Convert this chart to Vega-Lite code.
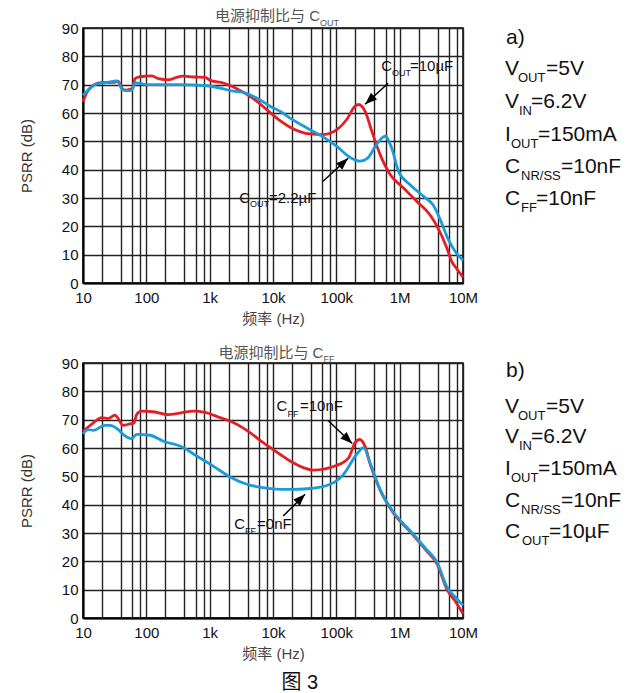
{
  "$schema": "https://vega.github.io/schema/vega-lite/v6.json",
  "background": "white",
  "padding": {"left": 18, "top": 8, "right": 0, "bottom": 0},
  "title": {"text": "图 3", "orient": "bottom", "anchor": "middle", "fontSize": 20, "fontWeight": "normal", "color": "#111", "offset": 11, "dx": -25, "font": "Liberation Sans, Noto Sans CJK SC"},
  "datasets": {
    "curvesA": [
      {"f":10,"psrr":64.0,"s":"r"},{"f":11.4,"psrr":67.1,"s":"r"},{"f":13,"psrr":68.8,"s":"r"},{"f":16.4,"psrr":70.4,"s":"r"},{"f":20,"psrr":70.7,"s":"r"},{"f":30,"psrr":70.8,"s":"r"},{"f":36,"psrr":71.2,"s":"r"},{"f":39,"psrr":70.0,"s":"r"},{"f":41,"psrr":68.8,"s":"r"},{"f":46,"psrr":68.1,"s":"r"},{"f":55,"psrr":68.3,"s":"r"},{"f":61,"psrr":68.8,"s":"r"},{"f":64,"psrr":71.0,"s":"r"},{"f":66,"psrr":72.1,"s":"r"},{"f":80,"psrr":72.8,"s":"r"},{"f":100,"psrr":73.0,"s":"r"},{"f":122,"psrr":73.1,"s":"r"},{"f":155,"psrr":72.1,"s":"r"},{"f":200,"psrr":71.8,"s":"r"},{"f":237,"psrr":71.8,"s":"r"},{"f":300,"psrr":72.6,"s":"r"},{"f":385,"psrr":73.0,"s":"r"},{"f":553,"psrr":72.7,"s":"r"},{"f":845,"psrr":72.6,"s":"r"},{"f":1015,"psrr":71.5,"s":"r"},{"f":1645,"psrr":70.6,"s":"r"},{"f":2680,"psrr":68.6,"s":"r"},{"f":4900,"psrr":65.1,"s":"r"},{"f":7950,"psrr":61.2,"s":"r"},{"f":12900,"psrr":57.3,"s":"r"},{"f":18600,"psrr":55.0,"s":"r"},{"f":38500,"psrr":52.6,"s":"r"},{"f":62500,"psrr":52.4,"s":"r"},{"f":102000,"psrr":54.1,"s":"r"},{"f":146000,"psrr":57.7,"s":"r"},{"f":198000,"psrr":62.4,"s":"r"},{"f":224000,"psrr":63.0,"s":"r"},{"f":285000,"psrr":60.6,"s":"r"},{"f":364000,"psrr":53.5,"s":"r"},{"f":492000,"psrr":45.3,"s":"r"},{"f":707000,"psrr":38.3,"s":"r"},{"f":1150000,"psrr":33.5,"s":"r"},{"f":1870000,"psrr":28.8,"s":"r"},{"f":3000000,"psrr":24.1,"s":"r"},{"f":3900000,"psrr":20.0,"s":"r"},{"f":5600000,"psrr":12.2,"s":"r"},{"f":6600000,"psrr":7.7,"s":"r"},{"f":8000000,"psrr":5.0,"s":"r"},{"f":10000000,"psrr":2.0,"s":"r"},
      {"f":10,"psrr":66.2,"s":"b"},{"f":12.9,"psrr":68.8,"s":"b"},{"f":17.5,"psrr":70.4,"s":"b"},{"f":22,"psrr":70.6,"s":"b"},{"f":30,"psrr":71.2,"s":"b"},{"f":34,"psrr":71.3,"s":"b"},{"f":37,"psrr":70.5,"s":"b"},{"f":41,"psrr":68.3,"s":"b"},{"f":50,"psrr":67.9,"s":"b"},{"f":59,"psrr":68.0,"s":"b"},{"f":63,"psrr":69.5,"s":"b"},{"f":66,"psrr":70.6,"s":"b"},{"f":75,"psrr":70.5,"s":"b"},{"f":101,"psrr":70.0,"s":"b"},{"f":340,"psrr":70.0,"s":"b"},{"f":800,"psrr":69.7,"s":"b"},{"f":1460,"psrr":68.8,"s":"b"},{"f":2370,"psrr":67.7,"s":"b"},{"f":3380,"psrr":67.3,"s":"b"},{"f":5500,"psrr":65.3,"s":"b"},{"f":9000,"psrr":62.4,"s":"b"},{"f":12900,"psrr":60.6,"s":"b"},{"f":18600,"psrr":58.2,"s":"b"},{"f":38500,"psrr":54.1,"s":"b"},{"f":62500,"psrr":51.5,"s":"b"},{"f":102000,"psrr":48.2,"s":"b"},{"f":163000,"psrr":44.4,"s":"b"},{"f":236000,"psrr":43.0,"s":"b"},{"f":313000,"psrr":44.1,"s":"b"},{"f":430000,"psrr":48.8,"s":"b"},{"f":585000,"psrr":51.8,"s":"b"},{"f":750000,"psrr":47.6,"s":"b"},{"f":960000,"psrr":39.4,"s":"b"},{"f":1460000,"psrr":34.7,"s":"b"},{"f":2370000,"psrr":30.6,"s":"b"},{"f":3400000,"psrr":27.4,"s":"b"},{"f":4400000,"psrr":22.2,"s":"b"},{"f":5900000,"psrr":15.2,"s":"b"},{"f":7500000,"psrr":11.2,"s":"b"},{"f":10000000,"psrr":8.0,"s":"b"}
    ],
    "curvesB": [
      {"f":10,"psrr":65.9,"s":"r"},{"f":14.6,"psrr":68.9,"s":"r"},{"f":19.7,"psrr":70.7,"s":"r"},{"f":25,"psrr":70.4,"s":"r"},{"f":32,"psrr":71.6,"s":"r"},{"f":36,"psrr":70.4,"s":"r"},{"f":43,"psrr":68.0,"s":"r"},{"f":55,"psrr":68.5,"s":"r"},{"f":64,"psrr":68.8,"s":"r"},{"f":70,"psrr":71.8,"s":"r"},{"f":84,"psrr":73.0,"s":"r"},{"f":128,"psrr":72.8,"s":"r"},{"f":222,"psrr":71.8,"s":"r"},{"f":553,"psrr":73.0,"s":"r"},{"f":845,"psrr":72.6,"s":"r"},{"f":1460,"psrr":70.7,"s":"r"},{"f":2100,"psrr":69.5,"s":"r"},{"f":3860,"psrr":66.2,"s":"r"},{"f":7000,"psrr":61.9,"s":"r"},{"f":12900,"psrr":57.8,"s":"r"},{"f":18600,"psrr":55.4,"s":"r"},{"f":43500,"psrr":52.2,"s":"r"},{"f":102000,"psrr":53.9,"s":"r"},{"f":157000,"psrr":56.6,"s":"r"},{"f":198000,"psrr":61.9,"s":"r"},{"f":233000,"psrr":63.0,"s":"r"},{"f":285000,"psrr":60.5,"s":"r"},{"f":340000,"psrr":54.5,"s":"r"},{"f":490000,"psrr":45.2,"s":"r"},{"f":800000,"psrr":37.0,"s":"r"},{"f":1460000,"psrr":30.5,"s":"r"},{"f":2600000,"psrr":24.0,"s":"r"},{"f":3900000,"psrr":19.0,"s":"r"},{"f":5600000,"psrr":10.0,"s":"r"},{"f":7500000,"psrr":6.0,"s":"r"},{"f":10000000,"psrr":1.5,"s":"r"},
      {"f":10,"psrr":65.0,"s":"b"},{"f":12,"psrr":66.5,"s":"b"},{"f":14.6,"psrr":66.2,"s":"b"},{"f":22,"psrr":68.0,"s":"b"},{"f":26.7,"psrr":68.0,"s":"b"},{"f":36,"psrr":66.5,"s":"b"},{"f":43,"psrr":64.8,"s":"b"},{"f":59,"psrr":63.3,"s":"b"},{"f":70,"psrr":64.8,"s":"b"},{"f":114,"psrr":64.5,"s":"b"},{"f":185,"psrr":62.4,"s":"b"},{"f":340,"psrr":60.7,"s":"b"},{"f":625,"psrr":57.2,"s":"b"},{"f":1140,"psrr":53.6,"s":"b"},{"f":2100,"psrr":49.8,"s":"b"},{"f":3860,"psrr":47.2,"s":"b"},{"f":7000,"psrr":46.0,"s":"b"},{"f":12900,"psrr":45.4,"s":"b"},{"f":18600,"psrr":45.4,"s":"b"},{"f":38500,"psrr":45.7,"s":"b"},{"f":80000,"psrr":47.2,"s":"b"},{"f":130000,"psrr":50.7,"s":"b"},{"f":210000,"psrr":57.8,"s":"b"},{"f":270000,"psrr":60.1,"s":"b"},{"f":340000,"psrr":54.8,"s":"b"},{"f":490000,"psrr":45.4,"s":"b"},{"f":800000,"psrr":37.3,"s":"b"},{"f":1460000,"psrr":30.8,"s":"b"},{"f":2600000,"psrr":24.4,"s":"b"},{"f":3900000,"psrr":19.7,"s":"b"},{"f":5600000,"psrr":10.9,"s":"b"},{"f":7500000,"psrr":7.4,"s":"b"},{"f":10000000,"psrr":4.5,"s":"b"}
    ],
    "annA": [
      {"f":55200,"psrr":92.4,"t":"电源抑制比与 C","role":"tmain"},
      {"f":55200,"psrr":90.6,"t":"OUT","role":"tsub"},
      {"f":757000,"psrr":74.7,"t":"C","role":"amain"},
      {"f":757000,"psrr":73.0,"t":"OUT","role":"asub"},
      {"f":1455000,"psrr":74.7,"t":"=10µF","role":"arest"},
      {"f":4340,"psrr":28.1,"t":"C","role":"amain"},
      {"f":4340,"psrr":26.7,"t":"OUT","role":"asub"},
      {"f":8650,"psrr":28.1,"t":"=2.2µF","role":"arest"}
    ],
    "annB": [
      {"f":62600,"psrr":91.7,"t":"电源抑制比与 C","role":"tmain"},
      {"f":62600,"psrr":90.2,"t":"FF","role":"tsub"},
      {"f":16900,"psrr":72.9,"t":"C","role":"amain"},
      {"f":16900,"psrr":71.1,"t":"FF","role":"asub"},
      {"f":26700,"psrr":72.9,"t":"=10nF","role":"arest"},
      {"f":3610,"psrr":31.4,"t":"C","role":"amain"},
      {"f":3610,"psrr":29.6,"t":"FF","role":"asub"},
      {"f":5600,"psrr":31.4,"t":"=0nF","role":"arest"}
    ],
    "arrowsA": [
      {"f":658000,"psrr":70.5,"f2":285000,"psrr2":63.1},
      {"f":61700,"psrr":35.9,"f2":153000,"psrr2":44.0}
    ],
    "headsA": [
      {"f":285000,"psrr":63.1,"angle":227.6},
      {"f":153000,"psrr":44.0,"angle":47.4}
    ],
    "arrowsB": [
      {"f":74100,"psrr":69.7,"f2":178000,"psrr2":61.6},
      {"f":14500,"psrr":36.0,"f2":32100,"psrr2":43.7}
    ],
    "headsB": [
      {"f":178000,"psrr":61.6,"angle":133.8},
      {"f":32100,"psrr":43.7,"angle":45}
    ],
    "infoA": [
      {"x":5,"y":16.3,"t":"a)","role":"m"},
      {"x":4,"y":47.3,"t":"V","role":"m"},{"x":17,"y":54.3,"t":"OUT","role":"s"},{"x":45,"y":47.3,"t":"=5V","role":"m"},
      {"x":4,"y":80.3,"t":"V","role":"m"},{"x":18,"y":87.3,"t":"IN","role":"s"},{"x":30,"y":80.3,"t":"=6.2V","role":"m"},
      {"x":4,"y":113.3,"t":"I","role":"m"},{"x":10,"y":120.3,"t":"OUT","role":"s"},{"x":37,"y":113.3,"t":"=150mA","role":"m"},
      {"x":4,"y":145.3,"t":"C","role":"m"},{"x":20,"y":152.3,"t":"NR/SS","role":"s"},{"x":60,"y":145.3,"t":"=10nF","role":"m"},
      {"x":4,"y":177.3,"t":"C","role":"m"},{"x":20,"y":184.3,"t":"FF","role":"s"},{"x":35,"y":177.3,"t":"=10nF","role":"m"}
    ],
    "infoB": [
      {"x":5,"y":13.7,"t":"b)","role":"m"},
      {"x":4,"y":49.7,"t":"V","role":"m"},{"x":17,"y":56.7,"t":"OUT","role":"s"},{"x":45,"y":49.7,"t":"=5V","role":"m"},
      {"x":4,"y":79.7,"t":"V","role":"m"},{"x":18,"y":86.7,"t":"IN","role":"s"},{"x":30,"y":79.7,"t":"=6.2V","role":"m"},
      {"x":4,"y":111.7,"t":"I","role":"m"},{"x":10,"y":118.7,"t":"OUT","role":"s"},{"x":37,"y":111.7,"t":"=150mA","role":"m"},
      {"x":4,"y":143.7,"t":"C","role":"m"},{"x":20,"y":150.7,"t":"NR/SS","role":"s"},{"x":60,"y":143.7,"t":"=10nF","role":"m"},
      {"x":4,"y":174.7,"t":"C","role":"m"},{"x":21,"y":181.7,"t":"OUT","role":"s"},{"x":48,"y":174.7,"t":"=10µF","role":"m"}
    ]
  },
  "spacing": 18,
  "resolve": {"scale": {"x": "independent", "y": "independent"}},
  "vconcat": [
    {
      "spacing": 22,
      "resolve": {"scale": {"x": "independent", "y": "independent"}},
      "hconcat": [
        {
          "width": 380, "height": 255,
          "encoding": {
            "x": {"field": "f", "type": "quantitative", "scale": {"type": "log", "domain": [10, 10000000], "nice": false},
              "axis": {"values": [10,20,40,60,80,100,200,400,600,800,1000,2000,4000,6000,8000,10000,20000,40000,60000,80000,100000,200000,400000,600000,800000,1000000,2000000,4000000,6000000,8000000,10000000],
                "format": "~s", "labelExpr": "abs(round(log(datum.value)/LN10) - log(datum.value)/LN10) < 0.01 ? datum.label : ''",
                "title": "频率 (Hz)", "titleColor": "#444"}},
            "y": {"field": "psrr", "type": "quantitative", "scale": {"domain": [0, 90], "nice": false},
              "axis": {"values": [0,10,20,30,40,50,60,70,80,90], "title": "PSRR (dB)"}}
          },
          "layer": [
            {"data": {"name": "curvesA"}, "transform": [{"filter": "datum.s === 'r'"}],
             "mark": {"type": "line", "color": "#e41e26", "strokeWidth": 2.8, "interpolate": "monotone"}},
            {"data": {"name": "curvesA"}, "transform": [{"filter": "datum.s === 'b'"}],
             "mark": {"type": "line", "color": "#1b9bd7", "strokeWidth": 2.8, "interpolate": "monotone"}},
            {"data": {"name": "arrowsA"},
             "mark": {"type": "rule", "color": "#000", "strokeWidth": 1.5},
             "encoding": {"x2": {"field": "f2"}, "y2": {"field": "psrr2"}}},
            {"data": {"name": "headsA"},
             "mark": {"type": "point", "shape": "M0,0L-0.75,2L0.75,2Z", "filled": true, "color": "#000", "size": 144, "opacity": 1},
             "encoding": {"angle": {"field": "angle", "type": "quantitative", "scale": null}}},
            {"data": {"name": "annA"}, "transform": [{"filter": "datum.role === 'tmain'"}],
             "mark": {"type": "text", "align": "right", "baseline": "alphabetic", "fontSize": 15, "color": "#555"},
             "encoding": {"text": {"field": "t"}}},
            {"data": {"name": "annA"}, "transform": [{"filter": "datum.role === 'tsub'"}],
             "mark": {"type": "text", "align": "left", "baseline": "alphabetic", "fontSize": 9, "color": "#555"},
             "encoding": {"text": {"field": "t"}}},
            {"data": {"name": "annA"}, "transform": [{"filter": "datum.role === 'amain'"}],
             "mark": {"type": "text", "align": "right", "baseline": "alphabetic", "fontSize": 15, "color": "#111"},
             "encoding": {"text": {"field": "t"}}},
            {"data": {"name": "annA"}, "transform": [{"filter": "datum.role === 'asub'"}],
             "mark": {"type": "text", "align": "left", "baseline": "alphabetic", "fontSize": 9, "color": "#111"},
             "encoding": {"text": {"field": "t"}}},
            {"data": {"name": "annA"}, "transform": [{"filter": "datum.role === 'arest'"}],
             "mark": {"type": "text", "align": "left", "baseline": "alphabetic", "fontSize": 15, "color": "#111"},
             "encoding": {"text": {"field": "t"}}}
          ]
        },
        {
          "width": 130, "height": 255,
          "view": {"stroke": null},
          "data": {"name": "infoA"},
          "encoding": {
            "x": {"field": "x", "type": "quantitative", "scale": {"domain": [0, 130], "nice": false, "zero": false}, "axis": null},
            "y": {"field": "y", "type": "quantitative", "scale": {"domain": [0, 255], "reverse": true, "nice": false}, "axis": null},
            "text": {"field": "t"}
          },
          "layer": [
            {"transform": [{"filter": "datum.role === 'm'"}], "mark": {"type": "text", "align": "left", "baseline": "alphabetic", "fontSize": 21, "color": "#111"}},
            {"transform": [{"filter": "datum.role === 's'"}], "mark": {"type": "text", "align": "left", "baseline": "alphabetic", "fontSize": 13, "color": "#111"}}
          ]
        }
      ]
    },
    {
      "spacing": 22,
      "resolve": {"scale": {"x": "independent", "y": "independent"}},
      "hconcat": [
        {
          "width": 380, "height": 255,
          "encoding": {
            "x": {"field": "f", "type": "quantitative", "scale": {"type": "log", "domain": [10, 10000000], "nice": false},
              "axis": {"values": [10,20,40,60,80,100,200,400,600,800,1000,2000,4000,6000,8000,10000,20000,40000,60000,80000,100000,200000,400000,600000,800000,1000000,2000000,4000000,6000000,8000000,10000000],
                "format": "~s", "labelExpr": "abs(round(log(datum.value)/LN10) - log(datum.value)/LN10) < 0.01 ? datum.label : ''",
                "title": "频率 (Hz)", "titleColor": "#444"}},
            "y": {"field": "psrr", "type": "quantitative", "scale": {"domain": [0, 90], "nice": false},
              "axis": {"values": [0,10,20,30,40,50,60,70,80,90], "title": "PSRR (dB)"}}
          },
          "layer": [
            {"data": {"name": "curvesB"}, "transform": [{"filter": "datum.s === 'r'"}],
             "mark": {"type": "line", "color": "#e41e26", "strokeWidth": 2.8, "interpolate": "monotone"}},
            {"data": {"name": "curvesB"}, "transform": [{"filter": "datum.s === 'b'"}],
             "mark": {"type": "line", "color": "#1b9bd7", "strokeWidth": 2.8, "interpolate": "monotone"}},
            {"data": {"name": "arrowsB"},
             "mark": {"type": "rule", "color": "#000", "strokeWidth": 1.5},
             "encoding": {"x2": {"field": "f2"}, "y2": {"field": "psrr2"}}},
            {"data": {"name": "headsB"},
             "mark": {"type": "point", "shape": "M0,0L-0.75,2L0.75,2Z", "filled": true, "color": "#000", "size": 144, "opacity": 1},
             "encoding": {"angle": {"field": "angle", "type": "quantitative", "scale": null}}},
            {"data": {"name": "annB"}, "transform": [{"filter": "datum.role === 'tmain'"}],
             "mark": {"type": "text", "align": "right", "baseline": "alphabetic", "fontSize": 15, "color": "#555"},
             "encoding": {"text": {"field": "t"}}},
            {"data": {"name": "annB"}, "transform": [{"filter": "datum.role === 'tsub'"}],
             "mark": {"type": "text", "align": "left", "baseline": "alphabetic", "fontSize": 9, "color": "#555"},
             "encoding": {"text": {"field": "t"}}},
            {"data": {"name": "annB"}, "transform": [{"filter": "datum.role === 'amain'"}],
             "mark": {"type": "text", "align": "right", "baseline": "alphabetic", "fontSize": 15, "color": "#111"},
             "encoding": {"text": {"field": "t"}}},
            {"data": {"name": "annB"}, "transform": [{"filter": "datum.role === 'asub'"}],
             "mark": {"type": "text", "align": "left", "baseline": "alphabetic", "fontSize": 9, "color": "#111"},
             "encoding": {"text": {"field": "t"}}},
            {"data": {"name": "annB"}, "transform": [{"filter": "datum.role === 'arest'"}],
             "mark": {"type": "text", "align": "left", "baseline": "alphabetic", "fontSize": 15, "color": "#111"},
             "encoding": {"text": {"field": "t"}}}
          ]
        },
        {
          "width": 130, "height": 255,
          "view": {"stroke": null},
          "data": {"name": "infoB"},
          "encoding": {
            "x": {"field": "x", "type": "quantitative", "scale": {"domain": [0, 130], "nice": false, "zero": false}, "axis": null},
            "y": {"field": "y", "type": "quantitative", "scale": {"domain": [0, 255], "reverse": true, "nice": false}, "axis": null},
            "text": {"field": "t"}
          },
          "layer": [
            {"transform": [{"filter": "datum.role === 'm'"}], "mark": {"type": "text", "align": "left", "baseline": "alphabetic", "fontSize": 21, "color": "#111"}},
            {"transform": [{"filter": "datum.role === 's'"}], "mark": {"type": "text", "align": "left", "baseline": "alphabetic", "fontSize": 13, "color": "#111"}}
          ]
        }
      ]
    }
  ],
  "config": {
    "font": "Liberation Sans, Noto Sans CJK SC",
    "view": {"stroke": "#000", "strokeWidth": 1.5},
    "axis": {"grid": true, "gridColor": "#222", "gridWidth": 1.4, "gridOpacity": 1, "ticks": false, "tickSize": 0,
      "domainColor": "#000", "domainWidth": 2, "labelFontSize": 15, "labelColor": "#111", "labelFont": "Liberation Sans",
      "titleFontSize": 15, "titleFontWeight": "normal", "titleColor": "#333", "titleFont": "Liberation Sans, Noto Sans CJK SC",
      "labelFlush": false, "labelOverlap": false},
    "axisX": {"labelPadding": 7, "titlePadding": 6},
    "axisY": {"labelPadding": 5, "titlePadding": 27}
  }
}
